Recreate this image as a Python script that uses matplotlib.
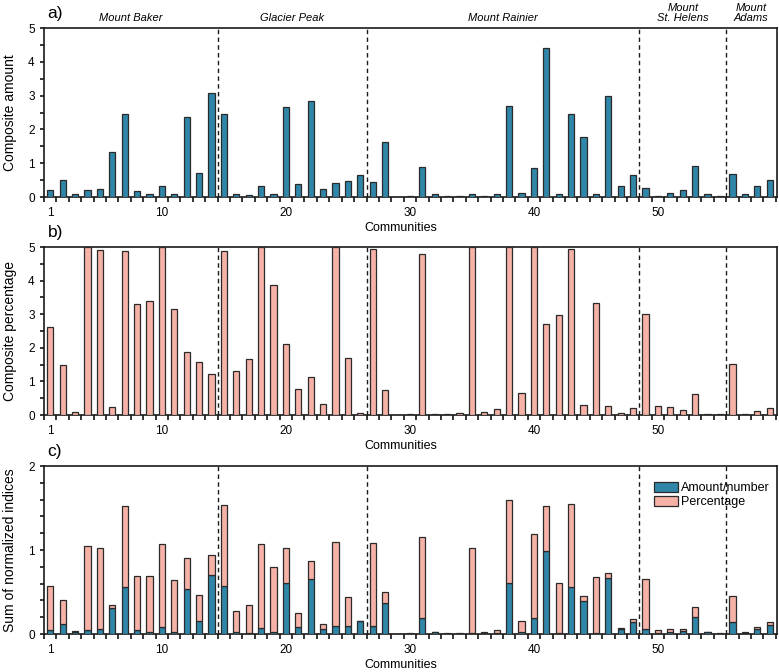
import matplotlib
matplotlib.use("Agg")
import matplotlib.pyplot as plt
import numpy as np
from matplotlib.ticker import MultipleLocator, FixedLocator

plt.rcParams['font.family'] = ['Liberation Sans', 'DejaVu Sans']

communities = list(range(1, 60))

composite_amount = [0.20, 0.50, 0.08, 0.22, 0.25, 1.34, 2.46, 0.17, 0.09, 0.32,
                    0.08, 2.37, 0.70, 3.09, 2.46, 0.08, 0.05, 0.32, 0.09, 2.67,
                    0.40, 2.85, 0.24, 0.41, 0.46, 0.64, 0.44, 1.63, 0.00, 0.03,
                    0.88, 0.10, 0.03, 0.03, 0.10, 0.02, 0.08, 2.68, 0.13, 0.87,
                    4.40, 0.10, 2.47, 1.78, 0.08, 2.98, 0.32, 0.65, 0.28, 0.03,
                    0.12, 0.20, 0.92, 0.10, 0.02, 0.67, 0.08, 0.32, 0.51]

composite_percentage = [2.62, 1.50, 0.10, 5.00, 4.91, 0.24, 4.88, 3.31, 3.40, 5.00,
                        3.15, 1.87, 1.57, 1.21, 4.89, 1.31, 1.66, 5.00, 3.88, 2.10,
                        0.78, 1.13, 0.34, 5.00, 1.69, 0.06, 4.93, 0.73, 0.00, 0.02,
                        4.78, 0.02, 0.04, 0.06, 5.00, 0.08, 0.18, 5.00, 0.67, 5.00,
                        2.70, 2.99, 4.94, 0.30, 3.33, 0.26, 0.05, 0.21, 3.00, 0.26,
                        0.23, 0.15, 0.63, 0.04, 0.03, 1.52, 0.03, 0.13, 0.21]

norm_amount = [0.044, 0.115, 0.025, 0.048, 0.060, 0.305, 0.560, 0.044, 0.020, 0.080,
               0.020, 0.535, 0.160, 0.705, 0.566, 0.020, 0.015, 0.075, 0.020, 0.610,
               0.087, 0.650, 0.055, 0.090, 0.100, 0.150, 0.100, 0.372, 0.000, 0.006,
               0.190, 0.022, 0.006, 0.006, 0.016, 0.018, 0.016, 0.604, 0.028, 0.190,
               0.994, 0.016, 0.560, 0.394, 0.016, 0.672, 0.064, 0.139, 0.060, 0.008,
               0.020, 0.040, 0.200, 0.022, 0.004, 0.140, 0.018, 0.060, 0.107]

norm_percentage = [0.522, 0.295, 0.015, 1.002, 0.970, 0.045, 0.970, 0.646, 0.670, 0.990,
                   0.625, 0.372, 0.310, 0.241, 0.974, 0.250, 0.325, 0.995, 0.780, 0.420,
                   0.158, 0.225, 0.065, 1.000, 0.340, 0.005, 0.980, 0.128, 0.000, 0.006,
                   0.963, 0.004, 0.006, 0.006, 1.004, 0.004, 0.032, 0.996, 0.127, 1.000,
                   0.533, 0.596, 0.990, 0.059, 0.660, 0.052, 0.004, 0.040, 0.600, 0.044,
                   0.036, 0.024, 0.126, 0.004, 0.004, 0.310, 0.004, 0.027, 0.040]

volcano_names = ["Mount Baker", "Glacier Peak", "Mount Rainier", "Mount\nSt. Helens", "Mount\nAdams"]
volcano_centers = [7.5, 20.5, 37.5, 52.0, 57.5]
volcano_bounds = [14.5, 26.5, 48.5, 55.5]

blue = "#2f86a8"
pink = "#f6b2a6"
edge = "#2a2a2a"

fig = plt.figure(figsize=(7.79, 6.72), dpi=100)
left, width = 0.0565, 0.941
boxes = [(0.7068, 0.2515), (0.3824, 0.2500), (0.0565, 0.2500)]
axes = [fig.add_axes([left, b, width, h]) for b, h in boxes]

x = np.array(communities)
bw = 0.5

axA, axB, axC = axes
axA.bar(x, composite_amount, width=bw, color=blue, edgecolor=edge, linewidth=0.9, zorder=3)
axB.bar(x, composite_percentage, width=bw, color=pink, edgecolor=edge, linewidth=0.9, zorder=3)
axC.bar(x, norm_amount, width=bw, color=blue, edgecolor=edge, linewidth=0.9, zorder=3,
        label="Amount/number")
axC.bar(x, norm_percentage, width=bw, bottom=norm_amount, color=pink, edgecolor=edge,
        linewidth=0.9, zorder=3, label="Percentage")

ylabels = ["Composite amount", "Composite percentage", "Sum of normalized indices"]
panel_letters = ["a)", "b)", "c)"]
ymax = [5, 5, 2]
yminor = [0.5, 0.5, 0.2]

for ax, yl, let, ym, ymn in zip(axes, ylabels, panel_letters, ymax, yminor):
    ax.set_xlim(0.5, 59.6)
    ax.set_ylim(0, ym)
    for s in ax.spines.values():
        s.set_linewidth(1.2)
        s.set_color("#1a1a1a")
    ax.xaxis.set_major_locator(FixedLocator([1, 10, 20, 30, 40, 50]))
    ax.xaxis.set_minor_locator(FixedLocator(np.arange(0.5, 60, 1.0)))
    ax.tick_params(axis='x', which='major', length=0, pad=7, labelsize=8.5)
    ax.tick_params(axis='x', which='minor', length=3.8, width=1.1, direction='out')
    ax.yaxis.set_major_locator(MultipleLocator(1))
    ax.yaxis.set_minor_locator(MultipleLocator(ymn))
    ax.tick_params(axis='y', which='both', length=3.2, width=1.1, direction='out',
                   pad=3.5, labelsize=8.5)
    ax.set_ylabel(yl, fontsize=10)
    ax.yaxis.set_label_coords(-0.037, 0.5)
    ax.set_xlabel("Communities", fontsize=9)
    ax.xaxis.set_label_coords(0.487, -0.15)
    for xb in volcano_bounds:
        ax.axvline(xb, color="#1a1a1a", linestyle=(0, (3.2, 2.4)), linewidth=1.0, zorder=2)
    ax.text(0.005, 1.085, let, transform=ax.transAxes, fontsize=12.5, ha='left', va='center')

for name, cx in zip(volcano_names, volcano_centers):
    axA.annotate(name, xy=(cx, 5), xycoords='data', xytext=(0, 3.5),
                 textcoords='offset points', ha='center', va='bottom',
                 fontsize=8, style='italic', linespacing=1.05, annotation_clip=False)

leg = axC.legend(loc='upper left', bbox_to_anchor=(0.82, 0.96), frameon=False,
                 fontsize=9, handlelength=1.9, handleheight=0.9, handletextpad=0.3,
                 labelspacing=0.15, borderpad=0.2)

fig.savefig("out.png", dpi=100)
